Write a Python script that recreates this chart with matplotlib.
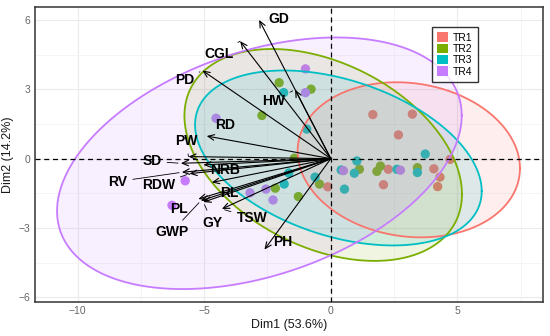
import numpy as np
import matplotlib
matplotlib.use("Agg")
import matplotlib.pyplot as plt
from matplotlib.patches import Patch

plt.rcParams['font.family'] = ['Liberation Sans', 'DejaVu Sans']

groups = ["TR1", "TR2", "TR3", "TR4"]
colors = ["#F8766D", "#7CAE00", "#00BFC4", "#C77CFF"]

tr1_x = [1.66, 3.22, 2.67, 4.71, 4.07, 4.31, 4.22, 2.27, 2.08, -0.12]
tr1_y = [1.91, 1.93, 1.03, -0.03, -0.44, -0.80, -1.21, -0.46, -1.13, -1.22]
tr2_x = [-2.04, -0.78, -2.72, -1.44, -2.19, -0.45, -1.28, 1.13, 1.82, 1.96, 3.42]
tr2_y = [3.29, 3.01, 1.87, 0.02, -1.28, -1.10, -1.64, -0.46, -0.55, -0.32, -0.39]
tr3_x = [-1.86, -0.95, -1.66, -1.84, -0.62, 0.41, 0.54, 1.03, 0.93, 2.61, 3.42, 3.73]
tr3_y = [2.86, 1.28, -0.62, -1.10, -0.80, -0.49, -1.32, -0.10, -0.63, -0.46, -0.60, 0.20]
tr4_x = [-1.00, -1.00, -4.53, -5.75, -6.27, -3.19, -2.56, -2.28, 0.50, 2.75]
tr4_y = [3.89, 2.86, 1.75, -0.96, -2.02, -1.48, -1.32, -1.79, -0.52, -0.50]

# confidence ellipses: centre, half-extent in x and y, correlation
ell_cx = [3.08, -0.30, 0.30, -2.82]
ell_cy = [-0.05, 0.16, 0.03, -0.20]
ell_hx = [4.39, 5.48, 5.66, 7.99]
ell_hy = [3.36, 4.59, 3.79, 5.45]
ell_rho = [-0.11, -0.37, -0.38, 0.38]

var_names = ["GD", "CGL", "PD", "HW", "RD", "PW", "SD", "NRB", "RV", "RDW",
             "RL", "PL", "GWP", "GY", "TSW", "PH"]
var_x = [-2.83, -3.58, -5.07, -1.41, -4.90, -5.62, -5.92, -5.03, -5.88, -5.58,
         -4.70, -5.23, -5.13, -5.03, -4.30, -2.62]
var_y = [6.01, 5.09, 3.82, 2.99, 0.98, 0.09, -0.20, -0.27, -0.59, -0.65,
         -1.03, -1.75, -1.82, -1.88, -2.18, -3.94]
lab_x = [-2.04, -4.43, -5.78, -2.27, -4.18, -5.71, -7.06, -4.18, -8.41, -6.81,
         -4.02, -6.01, -6.29, -4.68, -3.12, -1.90]
lab_y = [6.07, 4.55, 3.40, 2.51, 1.44, 0.75, -0.12, -0.49, -0.99, -1.14,
         -1.50, -2.19, -3.18, -2.77, -2.56, -3.59]
lab_seg = [False, True, True, True, False, True, True, False, True, True,
           False, False, True, True, True, False]

fig = plt.figure(figsize=(5.5, 3.36), dpi=100)
ax = fig.add_axes([34.5 / 550, 34 / 336, (543 - 34.5) / 550, (302 - 7) / 336])

pts_x = [tr1_x, tr2_x, tr3_x, tr4_x]
pts_y = [tr1_y, tr2_y, tr3_y, tr4_y]
for gx, gy, c in zip(pts_x, pts_y, colors):
    ax.scatter(gx, gy, s=45, color=c, edgecolors='none', zorder=2)

t = np.linspace(0, 2 * np.pi, 300)
for cx, cy, hx, hy, r, c in zip(ell_cx, ell_cy, ell_hx, ell_hy, ell_rho, colors):
    M = np.array([[hx ** 2, r * hx * hy], [r * hx * hy, hy ** 2]])
    L = np.linalg.cholesky(M)
    p = L @ np.vstack([np.cos(t), np.sin(t)])
    ex, ey = cx + p[0], cy + p[1]
    ax.fill(ex, ey, color=c, alpha=0.12, lw=0, zorder=3)
    ax.plot(ex, ey, color=c, lw=1.3, zorder=4)

ax.axhline(0, color='black', ls=(0, (4, 3)), lw=0.9, zorder=5)
ax.axvline(0, color='black', ls=(0, (4, 3)), lw=0.9, zorder=5)

for name, vx, vy, lx, ly, seg in zip(var_names, var_x, var_y, lab_x, lab_y, lab_seg):
    ax.annotate("", xy=(vx, vy), xytext=(0, 0),
                arrowprops=dict(arrowstyle='->,head_length=0.45,head_width=0.2',
                                lw=0.8, color='black', shrinkA=0, shrinkB=0),
                zorder=6)
    if seg:
        ax.annotate(name, xy=(vx, vy), xytext=(lx, ly), ha='center', va='center',
                    fontsize=10, fontweight='bold', color='black', zorder=7,
                    arrowprops=dict(arrowstyle='-', lw=0.6, color='black',
                                    shrinkA=2, shrinkB=2))
    else:
        ax.text(lx, ly, name, ha='center', va='center', fontsize=10,
                fontweight='bold', color='black', zorder=7)

ax.set_xlim(-11.7, 8.38)
ax.set_ylim(-6.21, 6.57)
ax.set_xticks([-10, -5, 0, 5])
ax.set_yticks([-6, -3, 0, 3, 6])
ax.set_xticks([-7.5, -2.5, 2.5, 7.5], minor=True)
ax.set_yticks([-4.5, -1.5, 1.5, 4.5], minor=True)
ax.grid(True, which='major', color='#EBEBEB', lw=0.8, zorder=0)
ax.grid(True, which='minor', color='#F2F2F2', lw=0.5, zorder=0)
ax.set_axisbelow(True)
ax.tick_params(which='both', length=0, labelsize=7.5, labelcolor='#666666', pad=3)
for s in ax.spines.values():
    s.set_color('#333333')
    s.set_linewidth(1.1)

ax.set_xlabel("Dim1 (53.6%)", fontsize=9, labelpad=2, color='#1A1A1A')
ax.set_ylabel("Dim2 (14.2%)", fontsize=9, labelpad=3, color='#1A1A1A')

handles = [Patch(facecolor=c, edgecolor='none', label=g) for g, c in zip(groups, colors)]
leg = ax.legend(handles=handles, loc='upper left', bbox_to_anchor=(0.772, 0.949),
                fontsize=7.5, frameon=True, fancybox=False, handlelength=1.0,
                handleheight=1.0, handletextpad=0.5, labelspacing=0.1,
                borderpad=0.5)
leg.get_frame().set_edgecolor('black')
leg.get_frame().set_linewidth(1.0)
leg.set_zorder(10)

fig.savefig("out.png", dpi=100)
